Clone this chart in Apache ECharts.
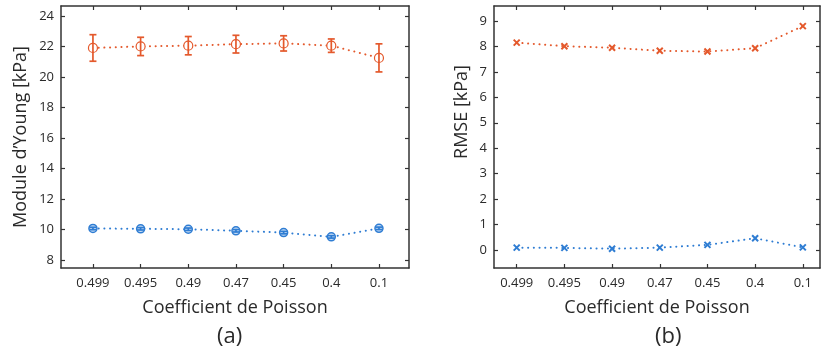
<!DOCTYPE html>
<html>
<head>
<meta charset="utf-8">
<script src="https://cdn.jsdelivr.net/npm/echarts@6/dist/echarts.min.js"></script>
<style>
html,body{margin:0;padding:0;background:#fff;}
#c{width:821px;height:356px;}
</style>
</head>
<body>
<div id="c"></div>
<script>
// ---- data ----
const categories = ['0.499', '0.495', '0.49', '0.47', '0.45', '0.4', '0.1'];
const youngOrangeMean = [21.9, 22.0, 22.05, 22.15, 22.2, 22.05, 21.25];
const youngOrangeErr  = [0.87, 0.6, 0.6, 0.58, 0.5, 0.44, 0.92];
const youngBlueMean   = [10.07, 10.05, 10.02, 9.92, 9.8, 9.52, 10.08];
const youngBlueErr    = [0.08, 0.08, 0.08, 0.08, 0.08, 0.08, 0.08];
const rmseOrange = [8.15, 8.01, 7.95, 7.83, 7.8, 7.93, 8.8];
const rmseBlue   = [0.09, 0.08, 0.05, 0.09, 0.2, 0.46, 0.1];
const youngTicks = [8, 10, 12, 14, 16, 18, 20, 22, 24];
const rmseTicks  = [0, 1, 2, 3, 4, 5, 6, 7, 8, 9];

const ORANGE = '#E4592C';
const BLUE = '#2F7DD3';
const AX = '#333333';
const TXT = '#2a2a2a';
const FONT = 'Open Sans';
const idx = categories.map((_, i) => i);

const pts = arr => arr.map((v, i) => [i, v]);
const errData = (m, e) => m.map((v, i) => [i, v - e[i], v + e[i]]);

function errRender(color) {
  return function (params, api) {
    const x = api.value(0), lo = api.value(1), hi = api.value(2);
    const a = api.coord([x, lo]), b = api.coord([x, hi]);
    const w = 3.5, st = {stroke: color, lineWidth: 1.7};
    return {type: 'group', children: [
      {type: 'line', shape: {x1: a[0], y1: a[1], x2: b[0], y2: b[1]}, style: st},
      {type: 'line', shape: {x1: a[0] - w, y1: a[1], x2: a[0] + w, y2: a[1]}, style: st},
      {type: 'line', shape: {x1: b[0] - w, y1: b[1], x2: b[0] + w, y2: b[1]}, style: st}
    ]};
  };
}

function xAxes(gi, min, max) {
  const base = {
    type: 'value', gridIndex: gi, min: min, max: max,
    axisLine: {show: true, onZero: false, lineStyle: {color: AX, width: 1.5}},
    axisTick: {show: true, inside: true, length: 4, customValues: idx, lineStyle: {color: AX, width: 1.2}},
    splitLine: {show: false}
  };
  return [
    Object.assign({}, base, {
      position: 'bottom',
      axisLabel: {show: true, customValues: idx, formatter: v => categories[Math.round(v)], color: TXT, fontSize: 13, fontFamily: FONT, margin: 9},
      name: 'Coefficient de Poisson', nameLocation: 'middle', nameGap: 31,
      nameTextStyle: {fontSize: 18, fontFamily: FONT, color: TXT}
    }),
    Object.assign({}, base, {position: 'top', axisLabel: {show: false}})
  ];
}
function yAxes(gi, min, max, ticks, name, gap, pad) {
  const base = {
    type: 'value', gridIndex: gi, min: min, max: max,
    axisLine: {show: true, onZero: false, lineStyle: {color: AX, width: 1.5}},
    axisTick: {show: true, inside: true, length: 4, customValues: ticks, lineStyle: {color: AX, width: 1.2}},
    splitLine: {show: false}
  };
  return [
    Object.assign({}, base, {
      position: 'left',
      axisLabel: {show: true, customValues: ticks, color: TXT, fontSize: 13, fontFamily: FONT, margin: 7},
      name: name, nameLocation: 'middle', nameGap: gap,
      nameTextStyle: {fontSize: 18, fontFamily: FONT, color: TXT, padding: pad}
    }),
    Object.assign({}, base, {position: 'right', axisLabel: {show: false}})
  ];
}

const lineStyle = c => ({color: c, width: 2, type: [0.1, 5.6], cap: 'round'});
const xSym = 'path://M0,0L10,10M10,0L0,10';

const option = {
  animation: false,
  grid: [
    {left: 61, top: 6, width: 348, height: 262},
    {left: 494, top: 6, width: 326, height: 262}
  ],
  xAxis: [].concat(xAxes(0, -0.67, 6.63), xAxes(1, -0.476, 6.36)),
  yAxis: [].concat(
    yAxes(0, 7.48, 24.65, youngTicks, 'Module d’Young [kPa]', 31, 0),
    yAxes(1, -0.71, 9.59, rmseTicks, 'RMSE [kPa]', 23, [0, 0, 0, 50])
  ),
  graphic: [
    {type: 'text', left: 217, top: 326, style: {text: '(a)', font: '22px "Open Sans"', fill: TXT}},
    {type: 'text', left: 655, top: 326, style: {text: '(b)', font: '22px "Open Sans"', fill: TXT}}
  ],
  series: [
    {type: 'line', xAxisIndex: 0, yAxisIndex: 0, data: pts(youngOrangeMean), lineStyle: lineStyle(ORANGE),
     symbol: 'circle', symbolSize: 9, itemStyle: {color: '#fff', borderColor: ORANGE, borderWidth: 1.2}, z: 3},
    {type: 'custom', xAxisIndex: 0, yAxisIndex: 0, data: errData(youngOrangeMean, youngOrangeErr), renderItem: errRender(ORANGE), z: 4},
    {type: 'line', xAxisIndex: 0, yAxisIndex: 0, data: pts(youngBlueMean), lineStyle: lineStyle(BLUE),
     symbol: 'circle', symbolSize: 8, itemStyle: {color: '#cfe0f5', borderColor: BLUE, borderWidth: 1.5}, z: 3},
    {type: 'custom', xAxisIndex: 0, yAxisIndex: 0, data: errData(youngBlueMean, youngBlueErr), renderItem: errRender(BLUE), z: 4},
    {type: 'line', xAxisIndex: 2, yAxisIndex: 2, data: pts(rmseOrange), lineStyle: lineStyle(ORANGE),
     symbol: xSym, symbolSize: 6, itemStyle: {color: ORANGE, borderColor: ORANGE, borderWidth: 2}},
    {type: 'line', xAxisIndex: 2, yAxisIndex: 2, data: pts(rmseBlue), lineStyle: lineStyle(BLUE),
     symbol: xSym, symbolSize: 6, itemStyle: {color: BLUE, borderColor: BLUE, borderWidth: 2}}
  ]
};
echarts.init(document.getElementById('c'), null, {renderer: 'canvas'}).setOption(option);
</script>
</body>
</html>
